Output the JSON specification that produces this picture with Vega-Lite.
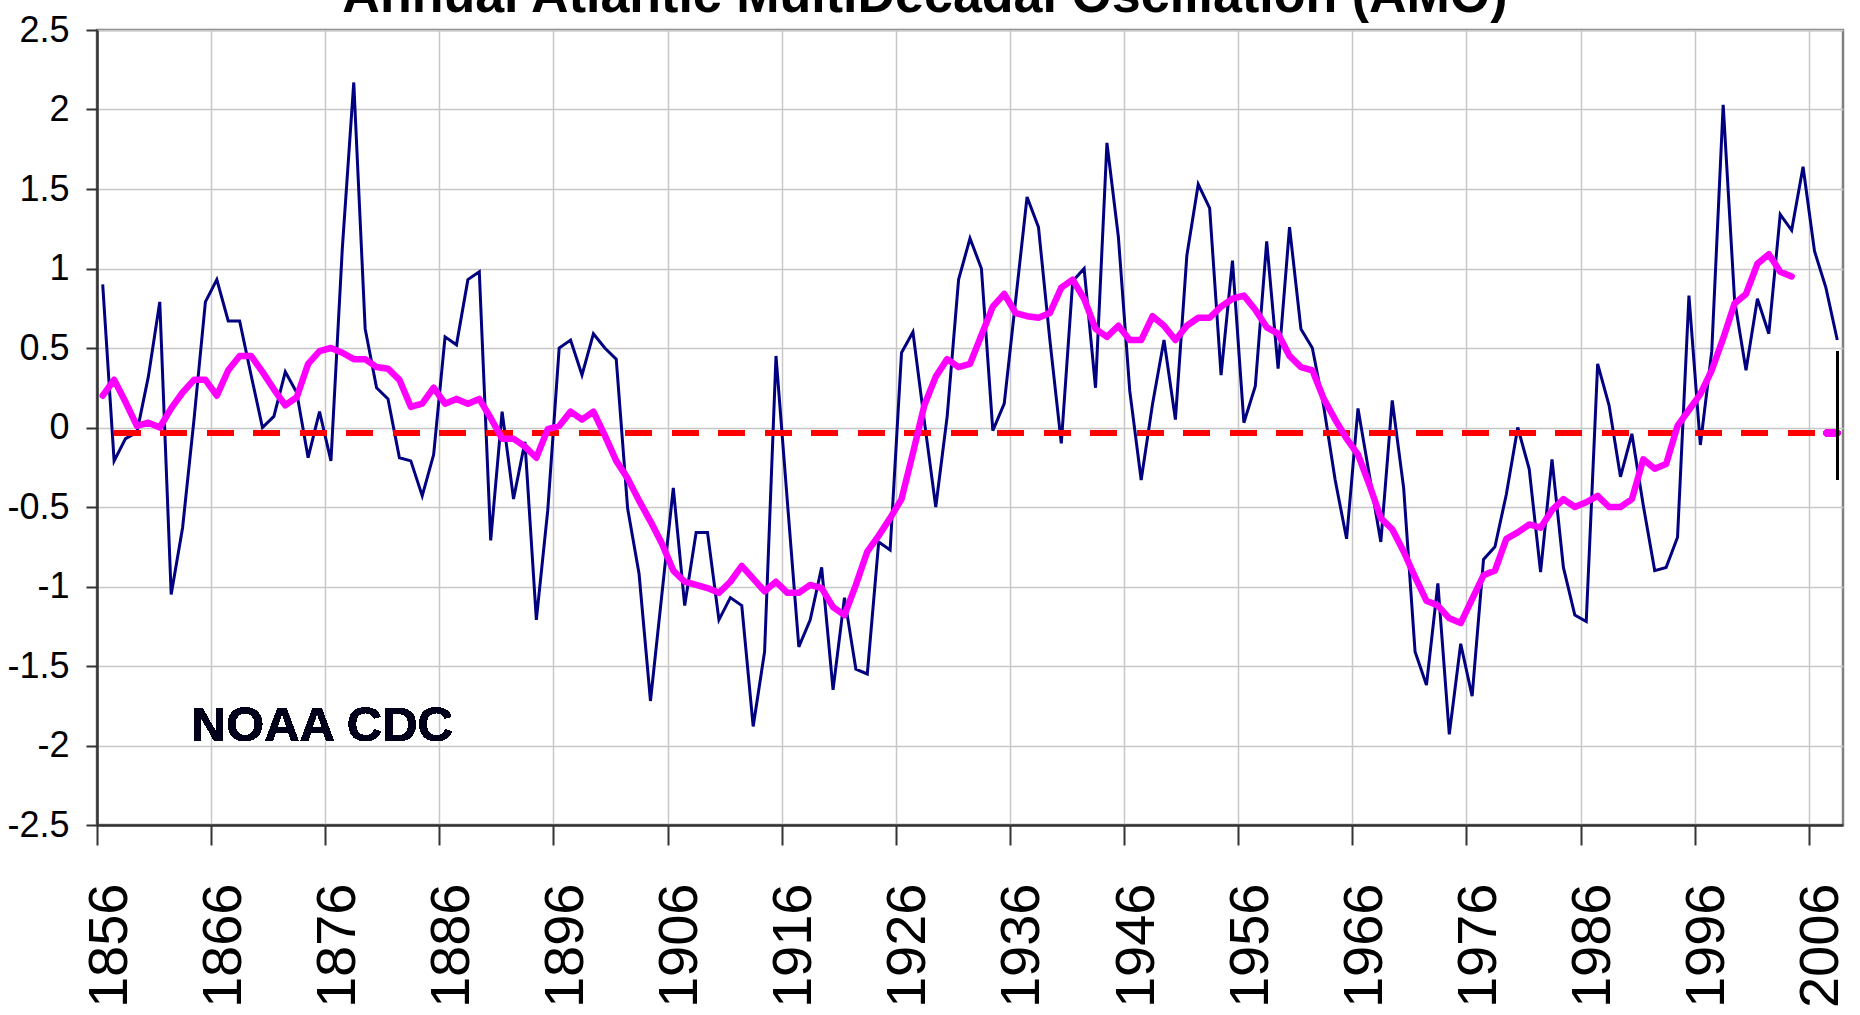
{
  "$schema": "https://vega.github.io/schema/vega-lite/v6.json",
  "autosize": {"type": "none"},
  "padding": {"left": 97, "top": 30, "right": 17, "bottom": 190},
  "width": 1746,
  "height": 795,
  "background": "white",
  "title": {
    "text": "Annual Atlantic MultiDecadal Oscillation (AMO)",
    "font": "Liberation Sans",
    "fontSize": 52,
    "fontWeight": "bold",
    "color": "#000000",
    "anchor": "middle",
    "baseline": "alphabetic",
    "offset": -52,
    "dx": -45
  },
  "config": {
    "view": {"stroke": "#808080", "strokeWidth": 2.5},
    "axis": {
      "gridColor": "#C8C8C8",
      "gridWidth": 1.5,
      "domainColor": "#333333",
      "domainWidth": 2.5,
      "tickColor": "#333333",
      "tickWidth": 2,
      "labelColor": "#000000",
      "title": null
    }
  },
  "data": {
    "values": [
      {"year": 1856, "amo": 0.90, "ma": 0.20},
      {"year": 1857, "amo": -0.21, "ma": 0.30},
      {"year": 1858, "amo": -0.07, "ma": 0.16},
      {"year": 1859, "amo": -0.03, "ma": 0.01},
      {"year": 1860, "amo": 0.32, "ma": 0.03},
      {"year": 1861, "amo": 0.79, "ma": 0.00},
      {"year": 1862, "amo": -1.05, "ma": 0.12},
      {"year": 1863, "amo": -0.63, "ma": 0.22},
      {"year": 1864, "amo": 0.05, "ma": 0.30},
      {"year": 1865, "amo": 0.79, "ma": 0.30},
      {"year": 1866, "amo": 0.93, "ma": 0.20},
      {"year": 1867, "amo": 0.67, "ma": 0.36},
      {"year": 1868, "amo": 0.67, "ma": 0.45},
      {"year": 1869, "amo": 0.33, "ma": 0.45},
      {"year": 1870, "amo": 0.00, "ma": 0.35},
      {"year": 1871, "amo": 0.07, "ma": 0.24},
      {"year": 1872, "amo": 0.35, "ma": 0.14},
      {"year": 1873, "amo": 0.22, "ma": 0.19},
      {"year": 1874, "amo": -0.19, "ma": 0.40},
      {"year": 1875, "amo": 0.10, "ma": 0.48},
      {"year": 1876, "amo": -0.21, "ma": 0.50},
      {"year": 1877, "amo": 1.13, "ma": 0.47},
      {"year": 1878, "amo": 2.17, "ma": 0.43},
      {"year": 1879, "amo": 0.62, "ma": 0.43},
      {"year": 1880, "amo": 0.25, "ma": 0.38},
      {"year": 1881, "amo": 0.18, "ma": 0.37},
      {"year": 1882, "amo": -0.19, "ma": 0.30},
      {"year": 1883, "amo": -0.21, "ma": 0.13},
      {"year": 1884, "amo": -0.43, "ma": 0.15},
      {"year": 1885, "amo": -0.17, "ma": 0.25},
      {"year": 1886, "amo": 0.57, "ma": 0.15},
      {"year": 1887, "amo": 0.52, "ma": 0.18},
      {"year": 1888, "amo": 0.93, "ma": 0.15},
      {"year": 1889, "amo": 0.98, "ma": 0.18},
      {"year": 1890, "amo": -0.71, "ma": 0.06},
      {"year": 1891, "amo": 0.10, "ma": -0.07},
      {"year": 1892, "amo": -0.45, "ma": -0.07},
      {"year": 1893, "amo": -0.09, "ma": -0.12},
      {"year": 1894, "amo": -1.21, "ma": -0.19},
      {"year": 1895, "amo": -0.52, "ma": -0.01},
      {"year": 1896, "amo": 0.50, "ma": 0.01},
      {"year": 1897, "amo": 0.55, "ma": 0.10},
      {"year": 1898, "amo": 0.33, "ma": 0.05},
      {"year": 1899, "amo": 0.59, "ma": 0.10},
      {"year": 1900, "amo": 0.50, "ma": -0.05},
      {"year": 1901, "amo": 0.43, "ma": -0.21},
      {"year": 1902, "amo": -0.51, "ma": -0.32},
      {"year": 1903, "amo": -0.92, "ma": -0.46},
      {"year": 1904, "amo": -1.72, "ma": -0.59},
      {"year": 1905, "amo": -1.05, "ma": -0.73},
      {"year": 1906, "amo": -0.38, "ma": -0.90},
      {"year": 1907, "amo": -1.12, "ma": -0.97},
      {"year": 1908, "amo": -0.66, "ma": -0.99},
      {"year": 1909, "amo": -0.66, "ma": -1.01},
      {"year": 1910, "amo": -1.21, "ma": -1.04},
      {"year": 1911, "amo": -1.07, "ma": -0.97},
      {"year": 1912, "amo": -1.12, "ma": -0.87},
      {"year": 1913, "amo": -1.88, "ma": -0.95},
      {"year": 1914, "amo": -1.41, "ma": -1.03},
      {"year": 1915, "amo": 0.45, "ma": -0.97},
      {"year": 1916, "amo": -0.47, "ma": -1.04},
      {"year": 1917, "amo": -1.38, "ma": -1.04},
      {"year": 1918, "amo": -1.21, "ma": -0.99},
      {"year": 1919, "amo": -0.88, "ma": -1.01},
      {"year": 1920, "amo": -1.65, "ma": -1.13},
      {"year": 1921, "amo": -1.07, "ma": -1.18},
      {"year": 1922, "amo": -1.52, "ma": -0.99},
      {"year": 1923, "amo": -1.55, "ma": -0.78},
      {"year": 1924, "amo": -0.72, "ma": -0.68},
      {"year": 1925, "amo": -0.77, "ma": -0.57},
      {"year": 1926, "amo": 0.47, "ma": -0.45},
      {"year": 1927, "amo": 0.60, "ma": -0.16},
      {"year": 1928, "amo": 0.04, "ma": 0.14},
      {"year": 1929, "amo": -0.50, "ma": 0.32},
      {"year": 1930, "amo": 0.07, "ma": 0.43},
      {"year": 1931, "amo": 0.93, "ma": 0.38},
      {"year": 1932, "amo": 1.19, "ma": 0.40},
      {"year": 1933, "amo": 1.00, "ma": 0.58},
      {"year": 1934, "amo": -0.02, "ma": 0.76},
      {"year": 1935, "amo": 0.15, "ma": 0.84},
      {"year": 1936, "amo": 0.80, "ma": 0.72},
      {"year": 1937, "amo": 1.45, "ma": 0.70},
      {"year": 1938, "amo": 1.26, "ma": 0.69},
      {"year": 1939, "amo": 0.55, "ma": 0.72},
      {"year": 1940, "amo": -0.10, "ma": 0.88},
      {"year": 1941, "amo": 0.92, "ma": 0.93},
      {"year": 1942, "amo": 1.00, "ma": 0.81},
      {"year": 1943, "amo": 0.25, "ma": 0.62},
      {"year": 1944, "amo": 1.79, "ma": 0.57},
      {"year": 1945, "amo": 1.20, "ma": 0.64},
      {"year": 1946, "amo": 0.23, "ma": 0.55},
      {"year": 1947, "amo": -0.33, "ma": 0.55},
      {"year": 1948, "amo": 0.15, "ma": 0.70},
      {"year": 1949, "amo": 0.55, "ma": 0.64},
      {"year": 1950, "amo": 0.05, "ma": 0.55},
      {"year": 1951, "amo": 1.08, "ma": 0.64},
      {"year": 1952, "amo": 1.53, "ma": 0.69},
      {"year": 1953, "amo": 1.38, "ma": 0.69},
      {"year": 1954, "amo": 0.33, "ma": 0.76},
      {"year": 1955, "amo": 1.05, "ma": 0.81},
      {"year": 1956, "amo": 0.03, "ma": 0.83},
      {"year": 1957, "amo": 0.26, "ma": 0.74},
      {"year": 1958, "amo": 1.17, "ma": 0.63},
      {"year": 1959, "amo": 0.37, "ma": 0.59},
      {"year": 1960, "amo": 1.26, "ma": 0.45},
      {"year": 1961, "amo": 0.62, "ma": 0.38},
      {"year": 1962, "amo": 0.50, "ma": 0.36},
      {"year": 1963, "amo": 0.13, "ma": 0.18},
      {"year": 1964, "amo": -0.33, "ma": 0.05},
      {"year": 1965, "amo": -0.70, "ma": -0.07},
      {"year": 1966, "amo": 0.12, "ma": -0.17},
      {"year": 1967, "amo": -0.30, "ma": -0.36},
      {"year": 1968, "amo": -0.72, "ma": -0.57},
      {"year": 1969, "amo": 0.17, "ma": -0.64},
      {"year": 1970, "amo": -0.38, "ma": -0.78},
      {"year": 1971, "amo": -1.41, "ma": -0.94},
      {"year": 1972, "amo": -1.62, "ma": -1.09},
      {"year": 1973, "amo": -0.98, "ma": -1.12},
      {"year": 1974, "amo": -1.93, "ma": -1.20},
      {"year": 1975, "amo": -1.36, "ma": -1.23},
      {"year": 1976, "amo": -1.69, "ma": -1.08},
      {"year": 1977, "amo": -0.83, "ma": -0.93},
      {"year": 1978, "amo": -0.75, "ma": -0.90},
      {"year": 1979, "amo": -0.42, "ma": -0.70},
      {"year": 1980, "amo": 0.00, "ma": -0.66},
      {"year": 1981, "amo": -0.26, "ma": -0.61},
      {"year": 1982, "amo": -0.91, "ma": -0.63},
      {"year": 1983, "amo": -0.20, "ma": -0.52},
      {"year": 1984, "amo": -0.88, "ma": -0.45},
      {"year": 1985, "amo": -1.18, "ma": -0.50},
      {"year": 1986, "amo": -1.22, "ma": -0.47},
      {"year": 1987, "amo": 0.40, "ma": -0.43},
      {"year": 1988, "amo": 0.14, "ma": -0.50},
      {"year": 1989, "amo": -0.31, "ma": -0.50},
      {"year": 1990, "amo": -0.04, "ma": -0.45},
      {"year": 1991, "amo": -0.49, "ma": -0.20},
      {"year": 1992, "amo": -0.90, "ma": -0.26},
      {"year": 1993, "amo": -0.88, "ma": -0.23},
      {"year": 1994, "amo": -0.69, "ma": 0.01},
      {"year": 1995, "amo": 0.83, "ma": 0.11},
      {"year": 1996, "amo": -0.11, "ma": 0.21},
      {"year": 1997, "amo": 0.48, "ma": 0.36},
      {"year": 1998, "amo": 2.03, "ma": 0.56},
      {"year": 1999, "amo": 0.80, "ma": 0.78},
      {"year": 2000, "amo": 0.36, "ma": 0.84},
      {"year": 2001, "amo": 0.81, "ma": 1.03},
      {"year": 2002, "amo": 0.59, "ma": 1.09},
      {"year": 2003, "amo": 1.34, "ma": 0.98},
      {"year": 2004, "amo": 1.24, "ma": 0.95},
      {"year": 2005, "amo": 1.64, "ma": null},
      {"year": 2006, "amo": 1.11, "ma": null},
      {"year": 2007, "amo": 0.88, "ma": null},
      {"year": 2008, "amo": 0.55, "ma": null}
    ]
  },
  "encoding": {
    "x": {
      "field": "year",
      "type": "quantitative",
      "scale": {"domain": [1855.5, 2008.5], "nice": false, "zero": false},
      "axis": {
        "values": [1855.5, 1865.5, 1875.5, 1885.5, 1895.5, 1905.5, 1915.5, 1925.5, 1935.5, 1945.5, 1955.5, 1965.5, 1975.5, 1985.5, 1995.5, 2005.5],
        "labelExpr": "'' + (datum.value + 0.5)",
        "labelAngle": -90,
        "labelFont": "Liberation Sans",
        "labelFontSize": 56,
        "labelPadding": 38,
        "labelOffset": 12,
        "tickSize": 20,
        "grid": true,
        "labelOverlap": false
      }
    },
    "y": {
      "type": "quantitative",
      "scale": {"domain": [-2.5, 2.5], "nice": false, "zero": false},
      "axis": {
        "values": [-2.5, -2, -1.5, -1, -0.5, 0, 0.5, 1, 1.5, 2, 2.5],
        "labelExpr": "'' + datum.value",
        "labelFont": "Liberation Sans",
        "labelFontSize": 36,
        "labelPadding": 17,
        "tickSize": 11,
        "grid": true,
        "labelOverlap": false
      }
    }
  },
  "layer": [
    {
      "mark": {"type": "line", "color": "#000080", "strokeWidth": 3, "strokeJoin": "miter"},
      "encoding": {"y": {"field": "amo", "type": "quantitative"}}
    },
    {
      "mark": {"type": "rule", "color": "#FF0000", "strokeWidth": 5, "strokeDash": [26, 20.5], "strokeCap": "butt"},
      "encoding": {
        "x": {"datum": 1857},
        "x2": {"datum": 2007},
        "y": {"datum": -0.035}
      }
    },
    {
      "mark": {"type": "line", "color": "#FF00FF", "strokeWidth": 6.5, "strokeJoin": "round", "strokeCap": "round"},
      "encoding": {"y": {"field": "ma", "type": "quantitative"}}
    },
    {
      "mark": {"type": "rule", "color": "#FF00FF", "strokeWidth": 6.5, "strokeCap": "round"},
      "encoding": {
        "x": {"datum": 2007.1},
        "x2": {"datum": 2008},
        "y": {"datum": -0.035}
      }
    },
    {
      "mark": {"type": "rule", "color": "#000000", "strokeWidth": 2},
      "encoding": {
        "x": {"datum": 2008},
        "y": {"datum": 0.48},
        "y2": {"datum": -0.33}
      }
    },
    {
      "mark": {"type": "text", "font": "Liberation Sans", "fontSize": 49, "fontWeight": "bold", "color": "#00001A", "align": "center", "baseline": "middle"},
      "encoding": {
        "x": {"datum": 1875.2},
        "y": {"datum": -1.88},
        "text": {"value": "NOAA CDC"}
      }
    }
  ]
}
